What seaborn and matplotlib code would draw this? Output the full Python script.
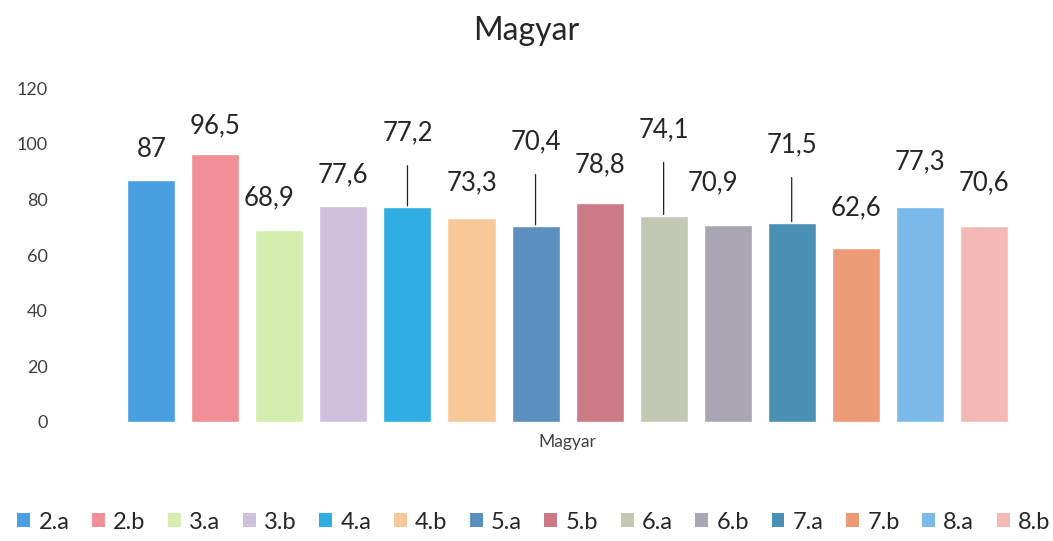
import matplotlib
matplotlib.use("Agg")
import matplotlib.pyplot as plt
import seaborn as sns
import pandas as pd
from matplotlib.patches import Patch

categories = ["2.a", "2.b", "3.a", "3.b", "4.a", "4.b", "5.a", "5.b",
              "6.a", "6.b", "7.a", "7.b", "8.a", "8.b"]
values = [87, 96.5, 68.9, 77.6, 77.2, 73.3, 70.4, 78.8, 74.1, 70.9, 71.5, 62.6, 77.3, 70.6]
group = "Magyar"
colors = ["#4a9fe0", "#f08f96", "#d5eeb0", "#cfc0e0", "#2eaee3", "#f9c898", "#5a8fbf",
          "#cc7a85", "#c3c8b4", "#a9a5b3", "#4a90b5", "#eb9c76", "#7ab9ea", "#f5b9b5"]
# label offsets (pixels above bar top) and whether a leader line is drawn
label_offsets = [30, 28, 33, 31, 74, 35, 84, 38, 86, 42, 78, 40, 45, 43]
label_dx = [0, 0, -10, 0, 0, 0, 0, 0, 0, -15, 0, 0, 0, 0]
leaders = [False, False, False, False, True, False, True, False, True, False, True, False, False, False]

df = pd.DataFrame({"grp": [group] * len(categories), "osztaly": categories, "ertek": values})

sns.set_theme(style="white")
plt.rcParams["font.family"] = ["Lato", "DejaVu Sans"]

fig = plt.figure(figsize=(10.53, 5.41), dpi=100)
ax = fig.add_axes([0.109, 0.22, 0.86, 0.617])

sns.barplot(data=df, x="grp", y="ertek", hue="osztaly", hue_order=categories,
            palette=colors, width=0.99, gap=0.25, ax=ax, legend=False,
            saturation=1, errorbar=None)

ax.set_ylim(0, 120)
ax.set_yticks(range(0, 121, 20))
ax.tick_params(axis="y", labelsize=13, colors="#404040", length=0, pad=48)
ax.tick_params(axis="x", labelsize=12.5, colors="#404040", length=0, pad=9)
ax.set_xlabel("")
ax.set_ylabel("")
for s in ax.spines.values():
    s.set_visible(False)
ax.set_xlim(-0.5, 0.5)

px2pt = 72 / 100
for i, cont in enumerate(ax.containers):
    bar = cont[0]
    cx = bar.get_x() + bar.get_width() / 2
    h = bar.get_height()
    txt = f"{values[i]:g}".replace(".", ",")
    arrow = dict(arrowstyle="-", color="#222222", lw=0.9, shrinkA=12, shrinkB=1) if leaders[i] else None
    ax.annotate(txt, xy=(cx, h), xytext=(label_dx[i] * px2pt, label_offsets[i] * px2pt),
                textcoords="offset points", ha="center", va="center",
                fontsize=18.5, color="#262626", arrowprops=arrow)

fig.suptitle("Magyar", fontsize=23, color="#262626", y=0.97)

handles = [Patch(facecolor=c, edgecolor="none") for c in colors]
fig.legend(handles, categories, loc="center", bbox_to_anchor=(0.507, 0.035), ncol=14,
           frameon=False, fontsize=17, handlelength=0.55, handleheight=0.55,
           handletextpad=0.35, columnspacing=0.95, labelcolor="#262626")

fig.savefig("out.png", dpi=100)
